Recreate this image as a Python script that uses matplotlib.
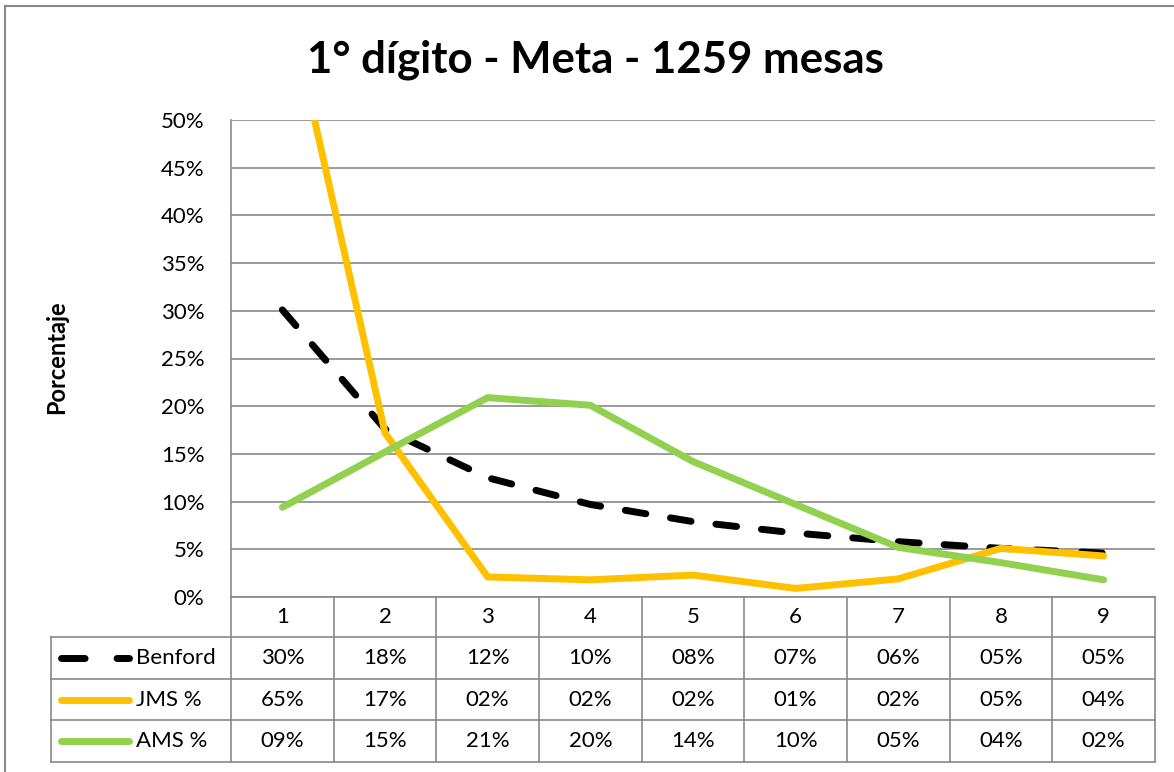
import matplotlib
matplotlib.use("Agg")
import matplotlib.pyplot as plt
from matplotlib.transforms import blended_transform_factory
from matplotlib.ticker import MultipleLocator, FuncFormatter

# ---------------- data ----------------
categories = [1, 2, 3, 4, 5, 6, 7, 8, 9]
benford = [30.1, 17.6, 12.5, 9.7, 7.9, 6.7, 5.8, 5.1, 4.6]
jms = [65.0, 17.2, 2.1, 1.8, 2.3, 0.9, 1.9, 5.1, 4.3]
ams = [9.4, 15.2, 20.9, 20.1, 14.2, 9.7, 5.2, 3.6, 1.8]
series_names = ["Benford", "JMS %", "AMS %"]
title = "1° dígito - Meta - 1259 mesas"
ylabel = "Porcentaje"

# ---------------- style ----------------
plt.rcParams['font.family'] = ['Lato', 'DejaVu Sans']
GRID = '#898989'
colors = ['black', '#FFC000', '#92D050']
LW = 5.0
DASH = (3.0, 3.6)

W, H = 1174, 772
fig = plt.figure(figsize=(W / 100, H / 100), dpi=100)

# overlay in pixel coordinates for table / frame
ov = fig.add_axes([0, 0, 1, 1], zorder=0)
ov.set_xlim(0, W)
ov.set_ylim(H, 0)
ov.axis('off')

L, R, T, B = 231, 1155, 120, 597
ax = fig.add_axes([L / W, 1 - B / H, (R - L) / W, (B - T) / H], zorder=2)
ax.patch.set_alpha(0)

series = [benford, jms, ams]
for vals, c, name in zip(series, colors, series_names):
    kw = dict(color=c, lw=LW, solid_capstyle='round', solid_joinstyle='round')
    if name == "Benford":
        kw.update(dashes=DASH, dash_capstyle='round')
    ax.plot(categories, vals, **kw)

ax.set_xlim(0.5, 9.5)
ax.set_ylim(0, 50)
ax.yaxis.set_major_locator(MultipleLocator(5))
ax.yaxis.set_major_formatter(FuncFormatter(lambda v, p: f"{int(round(v))}%"))
ax.set_xticks([])
ax.tick_params(axis='y', length=0, pad=19, labelsize=16)
ax.grid(axis='y', color=GRID, lw=1.2)
ax.set_axisbelow(True)
for s in ['top', 'right', 'bottom']:
    ax.spines[s].set_visible(False)
ax.spines['left'].set_color(GRID)
ax.spines['left'].set_linewidth(1.2)

# title and y label
fig.text(595 / W, 1 - 60 / H, title, ha='center', va='center',
         fontsize=31.5, fontweight='bold')
fig.text(57 / W, 1 - 357 / H, ylabel, ha='center', va='center',
         rotation=90, fontsize=17, fontweight='bold')

# outer frame (left and top visible)
ov.plot([5, 5], [6, H], color=GRID, lw=1.5)
ov.plot([5, W], [6, 6], color=GRID, lw=1.5)

# ---------------- data table ----------------
bt = blended_transform_factory(ax.transData, ov.transData)
TL = 51
row_edges = [B, 637, 679, 720, 762]
# horizontal lines
ov.plot([L, R], [B, B], color=GRID, lw=1.2)
for y in row_edges[1:]:
    ov.plot([TL, R], [y, y], color=GRID, lw=1.2)
# vertical lines
for k in range(len(categories) + 1):
    xb = categories[0] - 0.5 + k
    ov.plot([xb, xb], [B, row_edges[-1]], color=GRID, lw=1.2, transform=bt)
ov.plot([TL, TL], [row_edges[1], row_edges[-1]], color=GRID, lw=1.2)

# header row (categories)
hy = (row_edges[0] + row_edges[1]) / 2
for c in categories:
    ov.text(c, hy, str(c), ha='center', va='center', fontsize=16, transform=bt)

for i, (vals, c, name) in enumerate(zip(series, colors, series_names)):
    y = (row_edges[i + 1] + row_edges[i + 2]) / 2
    kw = dict(color=c, lw=LW, solid_capstyle='round')
    if name == "Benford":
        kw.update(dashes=(3.4, 4.6), dash_capstyle='round')
    ov.plot([61, 129], [y, y], **kw)
    ov.text(136, y, name, ha='left', va='center', fontsize=16)
    for cat, v in zip(categories, vals):
        ov.text(cat, y, f"{int(round(v)):02d}%", ha='center', va='center',
                fontsize=16, transform=bt)

fig.savefig("out.png", dpi=100)
